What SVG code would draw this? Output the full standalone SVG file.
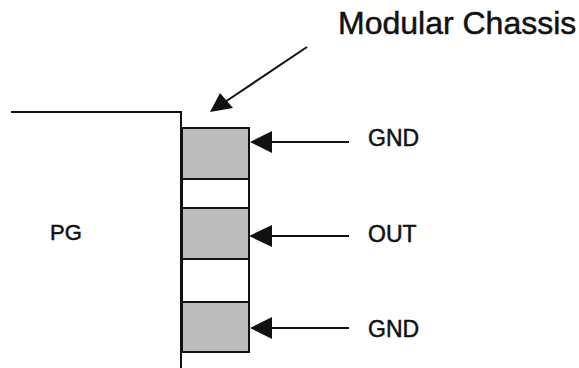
<svg xmlns="http://www.w3.org/2000/svg" width="579" height="368" viewBox="0 0 579 368">
<style>
.ln{stroke:#111;stroke-width:2;fill:none}
.slot{fill:#bcbcbc;stroke:#111;stroke-width:2}
.gap{fill:#fff;stroke:#111;stroke-width:2}
.t{font-family:"Liberation Sans",Arial,sans-serif;fill:#111;stroke:#111;stroke-width:0.5}
.ah{fill:#111}
</style>
<rect width="579" height="368" fill="#fff"/>
<g id="pg">
<path class="ln" d="M11 112 H181 V368"/>
<text class="t" x="50" y="240" font-size="22">PG</text>
</g>
<g id="chassis">
<rect class="slot" x="182" y="128" width="67" height="51"/>
<rect class="gap" x="182" y="179" width="67" height="29"/>
<rect class="slot" x="182" y="208" width="67" height="51"/>
<rect class="gap" x="182" y="259" width="67" height="43"/>
<rect class="slot" x="182" y="302" width="67" height="50"/>
</g>
<g id="label-chassis">
<text class="t" x="338" y="34" font-size="32">Modular Chassis</text>
</g>
<g id="gnd1"><text class="t" x="368" y="146" font-size="23">GND</text></g>
<g id="out"><text class="t" x="368" y="242" font-size="23">OUT</text></g>
<g id="gnd2"><text class="t" x="368" y="337" font-size="23">GND</text></g>
<g id="connectors">
<line class="ln" x1="307" y1="47" x2="222" y2="104"/>
<polygon class="ah" points="210,112 220,93 233,108"/>
<line class="ln" x1="349" y1="142" x2="268" y2="142"/>
<polygon class="ah" points="250,142 272,131 272,153"/>
<line class="ln" x1="349" y1="236" x2="268" y2="236"/>
<polygon class="ah" points="249,236 272,225 272,247"/>
<line class="ln" x1="349" y1="328" x2="268" y2="328"/>
<polygon class="ah" points="250,328 272,317 272,339"/>
</g>
</svg>
